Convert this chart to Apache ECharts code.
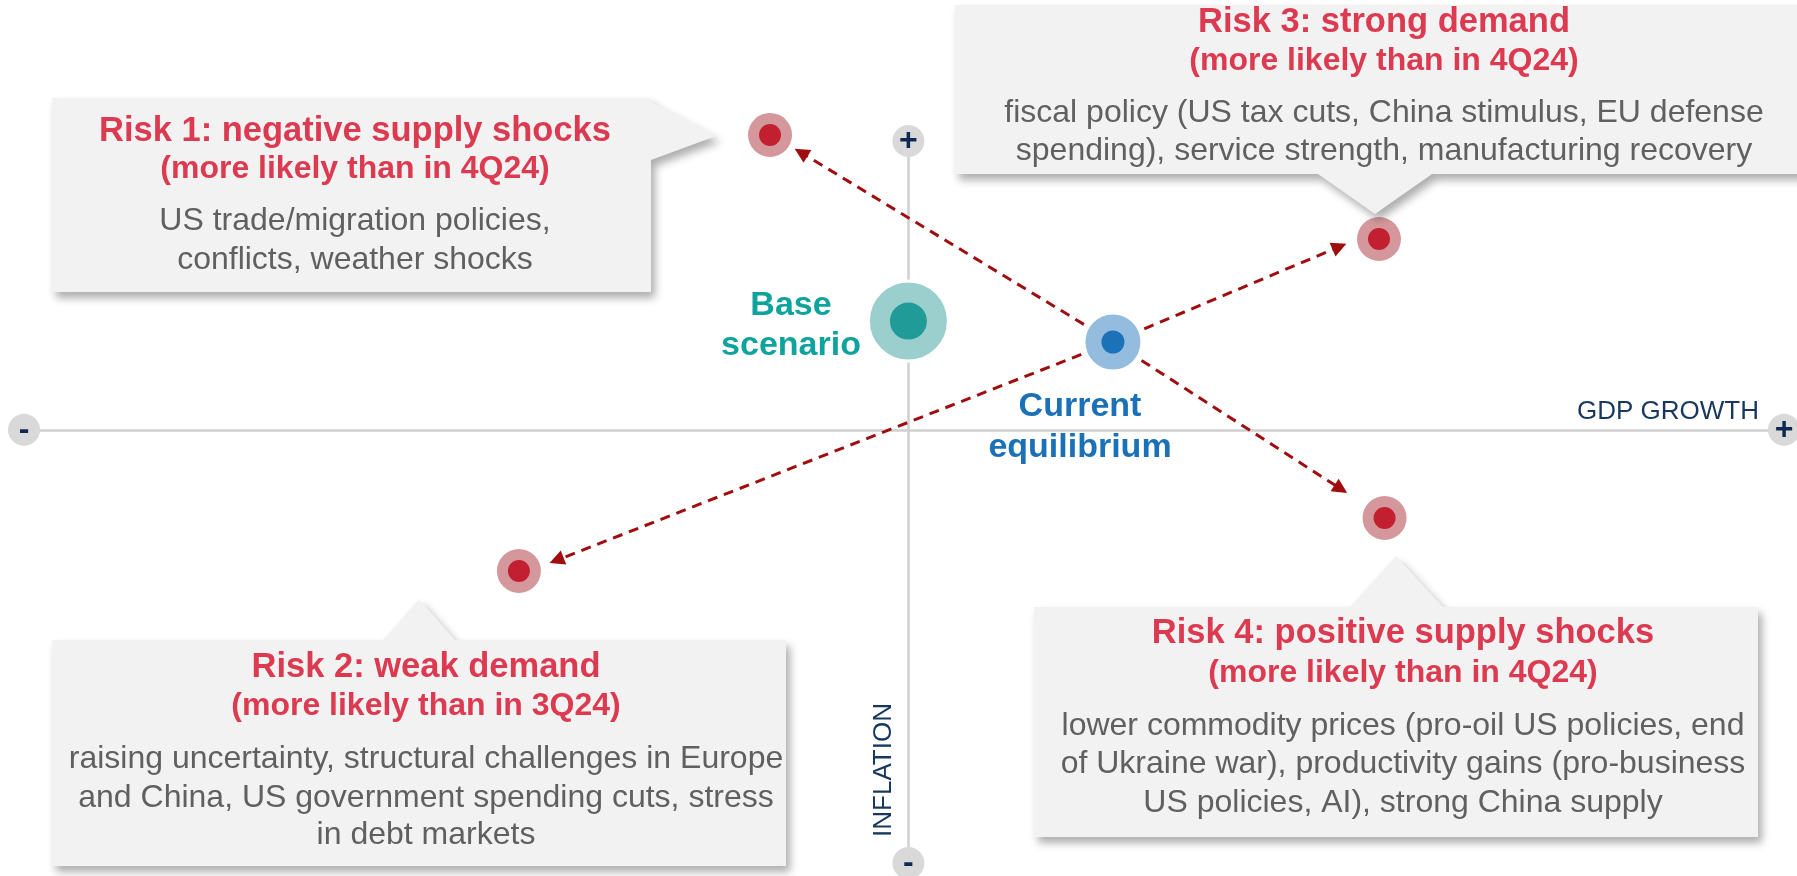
<!DOCTYPE html>
<html>
<head>
<meta charset="utf-8">
<title>Risk scenarios</title>
<script src="https://cdn.jsdelivr.net/npm/echarts@6/dist/echarts.min.js"></script>
<style>
  html, body { margin: 0; padding: 0; background: #fff; }
  #main { width: 1797px; height: 876px; }
</style>
</head>
<body>
<div id="main"></div>
<script>
// values: x = GDP growth, y = inflation (0 = where the axes cross)
var riskNames = ['Risk 1', 'Risk 2', 'Risk 3', 'Risk 4'];
var riskGdp = [-0.945, -2.66, 3.214, 3.252];
var riskInflation = [2.042, -0.978, 1.321, -0.611];
// arrow heads (centre of the head) on the way from current equilibrium to each risk
var arrowEndGdp = [-0.733, -2.403, 2.944, 2.954];
var arrowEndInflation = [1.92, -0.904, 1.268, -0.41];
var currentPoint = [1.397, 0.608];
var basePoint = [0, 0.753];
// + / - markers at the ends of both axes
var axisEndGdp = [-6.04, 5.98, 0, 0];
var axisEndInflation = [0, 0, 2, -3];
var axisEndSigns = ['-', '+', '+', '-'];

var riskTitles = [
  'Risk 1: negative supply shocks',
  'Risk 2: weak demand',
  'Risk 3: strong demand',
  'Risk 4: positive supply shocks'
];
var riskSubtitles = [
  '(more likely than in 4Q24)',
  '(more likely than in 3Q24)',
  '(more likely than in 4Q24)',
  '(more likely than in 4Q24)'
];
var riskTexts = [
  ['US trade/migration policies,', 'conflicts, weather shocks'],
  ['raising uncertainty, structural challenges in Europe', 'and China, US government spending cuts, stress', 'in debt markets'],
  ['fiscal policy (US tax cuts, China stimulus, EU defense', 'spending), service strength, manufacturing recovery'],
  ['lower commodity prices (pro-oil US policies, end', 'of Ukraine war), productivity gains (pro-business', 'US policies, AI), strong China supply']
];

var FONT = '"Liberation Sans", Arial, sans-serif';
var RED = '#dc3a50';
var GREY = '#606060';
var NAVY = '#17375e';

// callout boxes (pixel layout), same order as riskNames
var boxes = [
  { points: [[52, 98], [651, 98], [651, 102], [716, 136], [651, 160], [651, 292], [52, 292]], cx: 355, rows: [131.6, 169.4, 221, 260] },
  { points: [[52, 640], [383, 640], [419, 599], [455, 640], [786, 640], [786, 866], [52, 866]], cx: 426, rows: [667, 706, 759.4, 797.7, 835.4] },
  { points: [[955, 5], [1815, 5], [1815, 174], [1432, 174], [1375, 214], [1318, 174], [955, 174]], cx: 1384, rows: [22, 61, 113.4, 151] },
  { points: [[1034, 607], [1350, 607], [1396, 556], [1443, 607], [1758, 607], [1758, 837], [1034, 837]], cx: 1403, rows: [633.6, 672.7, 726, 764.4, 802.7] }
];

function txt(str, x, y, size, weight, color, align) {
  return {
    type: 'text', x: x, y: y, z: 20, silent: true,
    style: {
      text: str, x: 0, y: 0, align: align || 'center', verticalAlign: 'middle',
      fontSize: size, fontWeight: weight, fontFamily: FONT, fill: color
    }
  };
}

var graphics = [];
boxes.forEach(function (b, i) {
  graphics.push({
    type: 'polygon', z: 5, silent: true,
    shape: { points: b.points },
    style: { fill: '#f2f2f2', shadowBlur: 9, shadowOffsetX: 4, shadowOffsetY: 6, shadowColor: 'rgba(0,0,0,0.32)' }
  });
  graphics.push(txt(riskTitles[i], b.cx, b.rows[0], 34.5, 'bold', RED));
  graphics.push(txt(riskSubtitles[i], b.cx, b.rows[1], 32, 'bold', RED));
  riskTexts[i].forEach(function (line, j) {
    graphics.push(txt(line, b.cx, b.rows[2 + j], 32, 'normal', GREY));
  });
});
graphics.push(txt('Base', 791, 305.8, 34, 'bold', '#0fa39e'));
graphics.push(txt('scenario', 791, 345.8, 34, 'bold', '#0fa39e'));
graphics.push(txt('Current', 1080, 406.8, 34, 'bold', '#1b71b7'));
graphics.push(txt('equilibrium', 1080, 447.8, 34, 'bold', '#1b71b7'));
graphics.push(txt('GDP GROWTH', 1759, 412, 26, 'normal', NAVY, 'right'));
var infl = txt('INFLATION', 884, 770, 26, 'normal', NAVY);
infl.rotation = Math.PI / 2;
graphics.push(infl);

var chart = echarts.init(document.getElementById('main'));

var riskData = riskGdp.map(function (v, i) { return { name: riskNames[i], value: [v, riskInflation[i]] }; });
var arrowData = arrowEndGdp.map(function (v, i) {
  return { coords: [currentPoint, [v, arrowEndInflation[i]]] };
});
var axisEndData = axisEndGdp.map(function (v, i) { return { name: axisEndSigns[i], value: [v, axisEndInflation[i]] }; });

var axisLineStyle = { color: '#d0d0d0', width: 2.5 };

chart.setOption({
  animation: false,
  grid: { left: 24, right: 13, top: 141, bottom: 13 },
  xAxis: {
    type: 'value', min: -6.04, max: 5.98,
    axisLine: { onZero: true, lineStyle: axisLineStyle },
    axisTick: { show: false }, axisLabel: { show: false }, splitLine: { show: false }
  },
  yAxis: {
    type: 'value', min: -3, max: 2,
    axisLine: { onZero: true, lineStyle: axisLineStyle },
    axisTick: { show: false }, axisLabel: { show: false }, splitLine: { show: false }
  },
  graphic: { elements: graphics },
  series: [
    {
      type: 'lines', coordinateSystem: 'cartesian2d', z: 2, silent: true, clip: false,
      symbol: ['none', 'triangle'], symbolSize: 15,
      lineStyle: { color: '#a00d0f', width: 3, type: [10, 7], opacity: 1 },
      data: arrowData
    },
    {
      type: 'scatter', z: 3, silent: true, clip: false,
      symbol: 'circle', symbolSize: 32,
      itemStyle: { color: '#d9d9d9', opacity: 1 },
      label: {
        show: true, position: 'inside', formatter: '{b}',
        fontSize: 32, fontWeight: 'bold', fontFamily: FONT, color: '#0f2a52'
      },
      data: axisEndData
    },
    {
      type: 'scatter', z: 4, silent: true, clip: false,
      symbolSize: 44, itemStyle: { color: '#d4989c', opacity: 1 },
      data: riskData
    },
    {
      type: 'scatter', z: 5, silent: true, clip: false,
      symbolSize: 22, itemStyle: { color: '#c21f30', opacity: 1 },
      data: riskData
    },
    {
      type: 'scatter', z: 4, silent: true, clip: false,
      symbolSize: 58, itemStyle: { color: '#93bcdf', borderColor: '#fff', borderWidth: 3, opacity: 1 },
      data: [currentPoint]
    },
    {
      type: 'scatter', z: 5, silent: true, clip: false,
      symbolSize: 23, itemStyle: { color: '#1b72b8', opacity: 1 },
      data: [currentPoint]
    },
    {
      type: 'scatter', z: 4, silent: true, clip: false,
      symbolSize: 80, itemStyle: { color: '#9acfcd', borderColor: '#fff', borderWidth: 3, opacity: 1 },
      data: [basePoint]
    },
    {
      type: 'scatter', z: 5, silent: true, clip: false,
      symbolSize: 37, itemStyle: { color: '#219b98', opacity: 1 },
      data: [basePoint]
    }
  ]
});
</script>
</body>
</html>
